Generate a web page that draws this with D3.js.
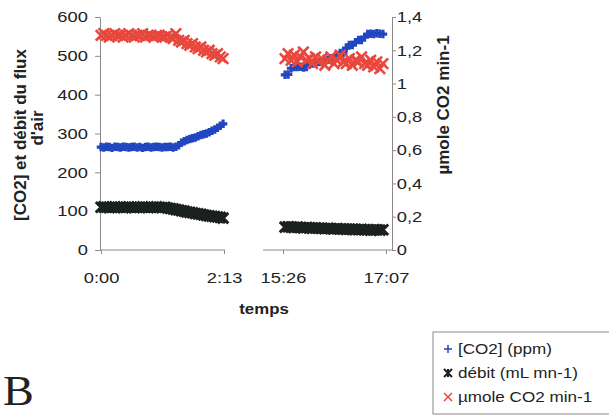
<!DOCTYPE html>
<html>
<head>
<meta charset="utf-8">
<script src="https://cdn.jsdelivr.net/npm/d3@7"></script>
<style>
  body { margin: 0; background: #fff; }
  svg { display: block; background: #fff; font-family: "Liberation Sans", Arial, sans-serif; }
</style>
</head>
<body>
<svg id="chart" width="609" height="417"></svg>
<script>
// tick labels of the broken time axis (h:mm) and of both value axes
var seg1TickLabels = ['0:00', '2:13'];
var seg2TickLabels = ['15:26', '17:07'];
var leftTicks = [0, 100, 200, 300, 400, 500, 600];
var rightTicks = [0, 0.2, 0.4, 0.6, 0.8, 1, 1.2, 1.4];

var seriesNames = ['[CO2] (ppm)', 'débit (mL mn-1)', 'µmole CO2 min-1'];

// sampling times, minutes since midnight
var seg1Times = [0, 3, 6, 9, 12, 15, 18, 21, 24, 27, 30, 33, 36, 39, 42, 45, 48, 51, 54, 57, 60, 63, 66, 69,
  72, 75, 78, 81, 84, 87, 90, 93, 96, 99, 102, 105, 108, 111, 114, 117, 120, 123, 126, 129, 132];
var seg2Times = [928, 931, 934, 937, 940, 943, 946, 949, 952, 955, 958, 961, 964, 967, 970, 973, 976,
  979, 982, 985, 988, 991, 994, 997, 1000, 1003, 1006, 1009, 1012, 1015, 1018, 1021, 1024];

// [CO2] (ppm) - left axis
var co2Seg1 = [265, 264, 266, 265, 263, 266, 265, 264, 266, 265, 264, 265, 266, 264, 265, 263, 265, 266,
  264, 265, 266, 265, 264, 265, 265, 266, 264, 266, 270, 276, 280, 283, 286, 288, 290, 293, 296, 298,
  300, 303, 307, 310, 315, 320, 325];
var co2Seg2 = [451, 452, 468, 471, 471, 472, 470, 471, 478, 480, 482, 484, 484, 486, 490, 494, 495, 500,
  507, 507, 520, 528, 528, 535, 541, 541, 548, 556, 557, 556, 558, 557, 556];

// débit (mL mn-1) - left axis
var debitSeg1 = [110, 111, 110, 109, 110, 111, 110, 110, 109, 110, 111, 110, 109, 110, 110, 111, 110, 109,
  110, 110, 111, 110, 109, 110, 108, 107, 106, 104, 103, 101, 100, 98, 97, 96, 94, 93, 92, 90, 89, 88,
  87, 86, 85, 84, 82];
var debitSeg2 = [59, 60, 59, 58, 59, 58, 57, 58, 57, 56, 57, 56, 56, 55, 56, 55, 54, 55, 54, 54, 53, 54,
  53, 53, 52, 53, 52, 52, 51, 52, 52, 51, 52];

// µmole CO2 min-1 - right axis
var umolSeg1 = [1.29, 1.30, 1.29, 1.28, 1.29, 1.30, 1.29, 1.29, 1.28, 1.29, 1.30, 1.29, 1.28, 1.29, 1.29,
  1.30, 1.28, 1.29, 1.29, 1.28, 1.29, 1.29, 1.28, 1.28, 1.29, 1.28, 1.27, 1.30, 1.26, 1.25, 1.26, 1.24,
  1.23, 1.24, 1.22, 1.21, 1.22, 1.20, 1.19, 1.20, 1.18, 1.17, 1.18, 1.16, 1.15];
var umolSeg2 = [1.15, 1.18, 1.14, 1.17, 1.13, 1.16, 1.19, 1.14, 1.15, 1.12, 1.16, 1.13, 1.15, 1.11, 1.14,
  1.16, 1.12, 1.14, 1.17, 1.13, 1.12, 1.15, 1.11, 1.14, 1.13, 1.16, 1.12, 1.11, 1.14, 1.10, 1.13, 1.09, 1.12];

(function () {

  var plot = { top: 17, bottom: 250, left: 100, right: 392 };
  var seg1Line = [100, 225], seg2Line = [263, 392];   // drawn parts of the broken x axis
  var seg1Range = [101, 224], seg2Range = [283, 386];
  var stretch = 1.22;                                  // the scanned text is wide
  var axisColor = '#8a8a8a', textColor = '#222';

  function toMinutes(s) {
    var p = s.split(':');
    return +p[0] * 60 + +p[1];
  }
  function toLabel(m) {
    return Math.floor(m / 60) + ':' + String(m % 60).padStart(2, '0');
  }

  // stroke markers like Excel's +, star and x
  var plusSym = { draw: function (c, size) { var r = Math.sqrt(size) / 2;
    c.moveTo(-r, 0); c.lineTo(r, 0); c.moveTo(0, -r); c.lineTo(0, r); } };
  var xSym = { draw: function (c, size) { var r = Math.sqrt(size) / 2;
    c.moveTo(-r, -r); c.lineTo(r, r); c.moveTo(-r, r); c.lineTo(r, -r); } };
  var starSym = { draw: function (c, size) { var r = Math.sqrt(size) / 2;
    c.moveTo(-r, -r); c.lineTo(r, r); c.moveTo(-r, r); c.lineTo(r, -r);
    c.moveTo(0, -r); c.lineTo(0, r); } };

  var seg1Ticks = seg1TickLabels.map(toMinutes);
  var seg2Ticks = seg2TickLabels.map(toMinutes);

  var x1 = d3.scaleLinear().domain(d3.extent(seg1Ticks)).range(seg1Range);
  var x2 = d3.scaleLinear().domain(d3.extent(seg2Ticks)).range(seg2Range);
  var yL = d3.scaleLinear().domain(d3.extent(leftTicks)).range([plot.bottom, plot.top]);
  var yR = d3.scaleLinear().domain(d3.extent(rightTicks)).range([plot.bottom, plot.top]);

  var comma = d3.formatLocale({ decimal: ',', thousands: ' ', grouping: [3], currency: ['', ''] }).format('~g');

  var svg = d3.select('#chart');

  // ---- axes
  var gL = svg.append('g')
    .attr('transform', 'translate(' + plot.left + ',0)')
    .call(d3.axisLeft(yL).tickValues(leftTicks).tickSize(5).tickPadding(5).tickSizeOuter(0));
  var gR = svg.append('g')
    .attr('transform', 'translate(' + plot.right + ',0)')
    .call(d3.axisRight(yR).tickValues(rightTicks).tickFormat(comma).tickSize(4).tickPadding(0).tickSizeOuter(0));
  var gX1 = svg.append('g')
    .attr('transform', 'translate(0,' + plot.bottom + ')')
    .call(d3.axisBottom(x1).tickValues(seg1Ticks).tickFormat(toLabel).tickSize(4).tickPadding(18));
  var gX2 = svg.append('g')
    .attr('transform', 'translate(0,' + plot.bottom + ')')
    .call(d3.axisBottom(x2).tickValues(seg2Ticks).tickFormat(toLabel).tickSize(4).tickPadding(18));

  [gX1, gX2].forEach(function (g) { g.select('.domain').remove(); });
  [seg1Line, seg2Line].forEach(function (s) {
    svg.append('line')
      .attr('x1', s[0]).attr('x2', s[1])
      .attr('y1', plot.bottom).attr('y2', plot.bottom)
      .attr('stroke', axisColor);
  });

  [gL, gR, gX1, gX2].forEach(function (g) {
    g.selectAll('.domain, .tick line').attr('stroke', axisColor);
    g.selectAll('.tick text')
      .attr('fill', textColor)
      .style('font-size', '15px')
      .attr('transform', 'scale(' + stretch + ',1)');
  });

  // axis titles
  var titleL = svg.append('text')
    .attr('transform', 'rotate(-90)')
    .attr('text-anchor', 'middle')
    .attr('fill', textColor)
    .style('font-size', '17px')
    .style('font-weight', 'bold');
  titleL.append('tspan').attr('x', -135).attr('y', 26).text('[CO2] et débit du flux');
  titleL.append('tspan').attr('x', -128).attr('y', 43).text('d\'air');

  svg.append('text')
    .attr('transform', 'translate(449,105) rotate(-90)')
    .attr('text-anchor', 'middle')
    .attr('fill', textColor)
    .style('font-size', '17px')
    .style('font-weight', 'bold')
    .text(seriesNames[2]);

  svg.append('text')
    .attr('transform', 'translate(264,314) scale(1.2,1)')
    .attr('text-anchor', 'middle')
    .attr('fill', textColor)
    .style('font-size', '14px')
    .style('font-weight', 'bold')
    .text('temps');

  // ---- series
  var series = [
    { name: seriesNames[0], y: yL, seg1: co2Seg1, seg2: co2Seg2, color: '#2146c0', sym: plusSym, size: 72, width: 3.2 },
    { name: seriesNames[1], y: yL, seg1: debitSeg1, seg2: debitSeg2, color: '#1b2020', sym: starSym, size: 110, width: 3 },
    { name: seriesNames[2], y: yR, seg1: umolSeg1, seg2: umolSeg2, color: '#e8473d', sym: xSym, size: 110, width: 2.6 }
  ];

  series.forEach(function (s) {
    var pts = seg1Times.map(function (t, i) { return { x: x1(t), y: s.y(s.seg1[i]) }; })
      .concat(seg2Times.map(function (t, i) { return { x: x2(t), y: s.y(s.seg2[i]) }; }));
    svg.append('g')
      .attr('fill', 'none')
      .attr('stroke', s.color)
      .attr('stroke-width', s.width)
      .selectAll('path')
      .data(pts)
      .enter()
      .append('path')
      .attr('transform', function (d) { return 'translate(' + d.x + ',' + d.y + ')'; })
      .attr('d', d3.symbol().type(s.sym).size(s.size));
  });

  // ---- legend (runs off the picture at right and bottom)
  var legend = svg.append('g').attr('transform', 'translate(433,332)');
  legend.append('rect')
    .attr('width', 200).attr('height', 82)
    .attr('fill', '#fff')
    .attr('stroke', '#8a8a8a');
  var item = legend.selectAll('g.item')
    .data(series)
    .enter()
    .append('g')
    .attr('class', 'item')
    .attr('transform', function (d, i) { return 'translate(0,' + (17 + i * 24) + ')'; });
  item.append('path')
    .attr('transform', 'translate(15,0)')
    .attr('fill', 'none')
    .attr('stroke', function (d) { return d.color; })
    .attr('stroke-width', function (d, i) { return i === 1 ? 2 : 1.5; })
    .attr('d', function (d) { return d3.symbol().type(d.sym).size(64)(); });
  item.append('text')
    .attr('transform', 'translate(25,5) scale(' + stretch + ',1)')
    .attr('fill', textColor)
    .style('font-size', '14px')
    .text(function (d) { return d.name; });

  // panel letter
  svg.append('text')
    .attr('transform', 'translate(3,405) scale(1.1,1)')
    .attr('fill', textColor)
    .style('font-family', '"Liberation Serif", "Times New Roman", serif')
    .style('font-size', '42px')
    .text('B');

})();
</script>
</body>
</html>
